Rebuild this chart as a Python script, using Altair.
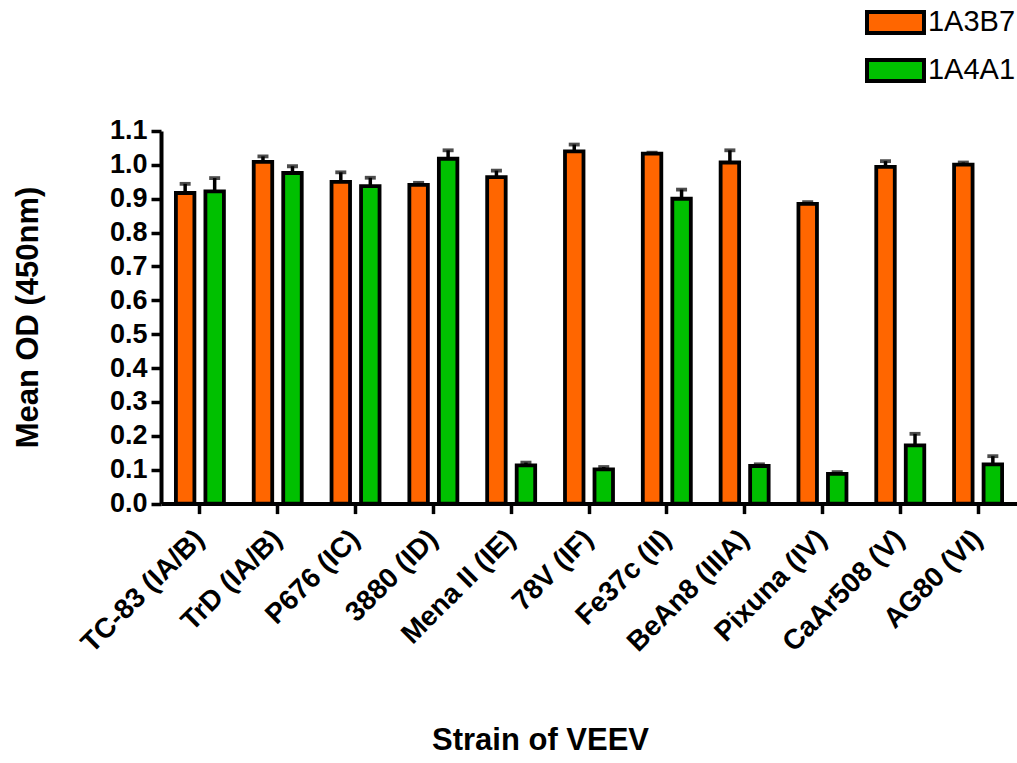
import altair as alt
import pandas as pd

strains = ["TC-83 (IA/B)", "TrD (IA/B)", "P676 (IC)", "3880 (ID)", "Mena II (IE)",
           "78V (IF)", "Fe37c (II)", "BeAn8 (IIIA)", "Pixuna (IV)", "CaAr508 (V)", "AG80 (VI)"]
series = ["1A3B7", "1A4A1"]
colors = ["#FF6600", "#00C000"]

mean_1a3b7 = [0.917, 1.009, 0.950, 0.941, 0.964, 1.040, 1.033, 1.007, 0.885, 0.994, 1.001]
err_1a3b7 = [0.027, 0.016, 0.028, 0.006, 0.019, 0.020, 0.003, 0.036, 0.005, 0.017, 0.006]
mean_1a4a1 = [0.922, 0.976, 0.937, 1.018, 0.113, 0.101, 0.900, 0.111, 0.088, 0.172, 0.116]
err_1a4a1 = [0.039, 0.020, 0.025, 0.025, 0.008, 0.007, 0.027, 0.005, 0.005, 0.034, 0.024]

y_ticks = [0.0, 0.1, 0.2, 0.3, 0.4, 0.5, 0.6, 0.7, 0.8, 0.9, 1.0, 1.1]

rows = []
for i, s in enumerate(strains):
    rows.append({"strain": s, "mab": series[0], "mean": mean_1a3b7[i], "top": mean_1a3b7[i] + err_1a3b7[i]})
    rows.append({"strain": s, "mab": series[1], "mean": mean_1a4a1[i], "top": mean_1a4a1[i] + err_1a4a1[i]})
df = pd.DataFrame(rows)

FONT = "Arial, Liberation Sans, sans-serif"

x_enc = alt.X(
    "strain:N", sort=strains,
    scale=alt.Scale(paddingInner=0.383, paddingOuter=0.1915),
    axis=alt.Axis(
        title="Strain of VEEV", labelAngle=-45, labelAlign="right", labelBaseline="middle",
        labelPadding=21, labelFontSize=28, labelFontWeight="bold", labelFont=FONT,
        labelColor="black", labelOverlap=False, tickSize=10, tickWidth=3.5, tickColor="black",
        domainWidth=4, domainColor="black", titleFont=FONT, titleFontSize=31,
        titleFontWeight="bold", titleColor="black", titleX=379, titleY=237,
        titleBaseline="middle", titleAlign="center",
    ),
)
xoff_enc = alt.XOffset("mab:N", sort=series, scale=alt.Scale(paddingInner=0.373, paddingOuter=0))
y_scale = alt.Scale(domain=[0, 1.1], nice=False, zero=True)
y_axis = alt.Axis(
    title="Mean OD (450nm)", values=y_ticks, format=".1f",
    labelFontSize=27, labelFontWeight="bold", labelFont=FONT, labelColor="black",
    labelPadding=4, tickSize=10, tickWidth=3.5, tickColor="black",
    domainWidth=4, domainColor="black", titleFont=FONT, titleFontSize=31,
    titleFontWeight="bold", titleColor="black", titleAngle=270, titleX=-133, titleY=186,
    titleBaseline="middle", titleAlign="center",
)

base = alt.Chart(df)

bars = base.mark_bar(stroke="black", strokeWidth=3.8).encode(
    x=x_enc, xOffset=xoff_enc,
    y=alt.Y("mean:Q", scale=y_scale, axis=y_axis),
    color=alt.Color(
        "mab:N", sort=series, scale=alt.Scale(domain=series, range=colors),
        legend=alt.Legend(
            title=None, orient="none", legendX=711, legendY=-132, padding=0,
            symbolType="M-1.35,-0.5H1.35V0.5H-1.35Z", symbolSize=1782,
            symbolStrokeColor="black", symbolStrokeWidth=4, symbolOpacity=1,
            labelFont=FONT, labelFontSize=29, labelColor="black", labelOffset=9,
            rowPadding=5,
        ),
    ),
)

rules = base.mark_rule(color="black", strokeWidth=3.5).encode(
    x=x_enc, xOffset=xoff_enc,
    y=alt.Y("mean:Q", scale=y_scale, axis=y_axis), y2="top:Q",
)

caps = base.mark_tick(color="black", thickness=3.8, size=11).encode(
    x=x_enc, xOffset=xoff_enc,
    y=alt.Y("top:Q", scale=y_scale, axis=y_axis),
)

chart = alt.layer(bars, rules, caps).properties(
    width=856, height=372.6,
    padding={"left": 161, "top": 131, "right": 0, "bottom": 259},
    autosize=alt.AutoSizeParams(type="none"),
).configure_axis(grid=False).configure_view(stroke=None)

chart.save("out.html", embed_options={"renderer": "svg", "actions": False})
